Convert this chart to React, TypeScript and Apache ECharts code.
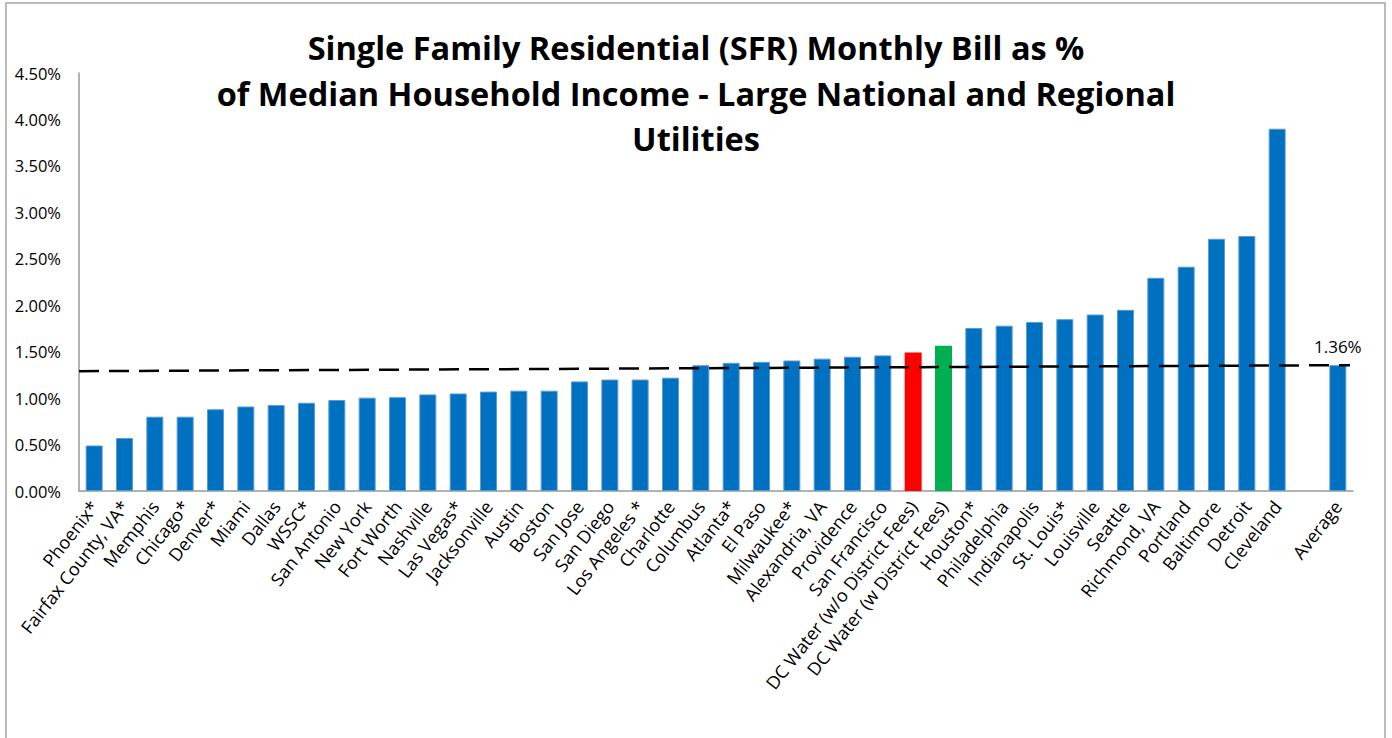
import React, { useEffect, useRef } from "react";
import * as echarts from "echarts";

const categories = [
  "Phoenix*", "Fairfax County, VA*", "Memphis", "Chicago*", "Denver*", "Miami", "Dallas", "WSSC*",
  "San Antonio", "New York", "Fort Worth", "Nashville", "Las Vegas*", "Jacksonville", "Austin", "Boston",
  "San Jose", "San Diego", "Los Angeles *", "Charlotte", "Columbus", "Atlanta*", "El Paso", "Milwaukee*",
  "Alexandria, VA", "Providence", "San Francisco", "DC Water (w/o District Fees)", "DC Water (w District Fees)",
  "Houston*", "Philadelphia", "Indianapolis", "St. Louis*", "Louisville", "Seattle", "Richmond, VA",
  "Portland", "Baltimore", "Detroit", "Cleveland", "", "Average",
];

const values: (number | null)[] = [
  0.49, 0.57, 0.80, 0.80, 0.88, 0.91, 0.925, 0.95,
  0.98, 1.005, 1.01, 1.04, 1.05, 1.07, 1.08, 1.08,
  1.18, 1.20, 1.20, 1.22, 1.355, 1.38, 1.39, 1.405,
  1.425, 1.445, 1.46, 1.49, 1.565,
  1.755, 1.78, 1.82, 1.85, 1.90, 1.95, 2.295,
  2.415, 2.715, 2.745, 3.90, null, 1.355,
];

const highlightColors: Record<string, string> = {
  "DC Water (w/o District Fees)": "#FF0000",
  "DC Water (w District Fees)": "#00B050",
};

const averageLabel = "1.36%";
const trendX = [0, 41.9];
const trendY = [1.29, 1.355];

const yTicks = { min: 0, max: 4.5, interval: 0.5 };

const titleText =
  "Single Family Residential (SFR) Monthly Bill as %\nof Median Household Income - Large National and Regional\nUtilities";

export default function App() {
  const ref = useRef<HTMLDivElement>(null);

  useEffect(() => {
    if (!ref.current) return;
    const chart = echarts.init(ref.current, null, { renderer: "svg" });
    const font = "Open Sans";
    const barData = values.map((v, i) => {
      const name = categories[i];
      const c = highlightColors[name];
      const item: any = { value: v };
      if (c) item.itemStyle = { color: c, borderWidth: 0 };
      if (name === "Average") {
        item.label = {
          show: true,
          position: "top",
          distance: 10,
          formatter: averageLabel,
          fontSize: 17,
          fontFamily: font,
          color: "#000",
        };
      }
      return item;
    });
    chart.setOption({
      animation: false,
      backgroundColor: "#fff",
      graphic: [
        {
          type: "rect",
          shape: { x: 6, y: 3, width: 1379, height: 760 },
          style: { fill: "none", stroke: "#a6a6a6", lineWidth: 1.5 },
          silent: true,
        },
        {
          type: "text",
          x: 696,
          y: 93,
          style: {
            text: titleText,
            align: "center",
            verticalAlign: "middle",
            fontFamily: font,
            fontSize: 32.5,
            fontWeight: "bold",
            lineHeight: 45.5,
            fill: "#000",
          },
          silent: true,
        },
      ],
      grid: { left: 79, right: 39, top: 73, bottom: 247, containLabel: false },
      xAxis: [
        {
          type: "category",
          data: categories,
          axisLine: { show: true, lineStyle: { color: "#999", width: 1.5 } },
          axisTick: { show: false },
          axisLabel: {
            interval: 0,
            rotate: 52,
            margin: 12,
            fontSize: 18,
            fontFamily: font,
            color: "#000",
          },
        },
        {
          type: "value",
          min: 0,
          max: 42,
          show: false,
        },
      ],
      yAxis: {
        type: "value",
        min: yTicks.min,
        max: yTicks.max,
        interval: yTicks.interval,
        splitLine: { show: false },
        axisLine: { show: true, lineStyle: { color: "#999", width: 1.5 } },
        axisTick: { show: false },
        axisLabel: {
          formatter: (v: number) => v.toFixed(2) + "%",
          fontSize: 16.5,
          fontFamily: font,
          color: "#000",
          margin: 18,
        },
      },
      series: [
        {
          type: "bar",
          data: barData,
          barWidth: 17,
          itemStyle: { color: "#0070C0", borderColor: "#5B9BD5", borderWidth: 1 },
        },
        {
          type: "line",
          xAxisIndex: 1,
          data: trendX.map((x, i) => [x, trendY[i]]),
          symbol: "none",
          lineStyle: { color: "#000", width: 2.5, type: [20, 10] },
          z: 5,
        },
      ],
    });
    return () => chart.dispose();
  }, []);

  return (
    <div
      ref={ref}
      style={{ position: "fixed", left: 0, top: 0, width: 1392, height: 738 }}
    />
  );
}
